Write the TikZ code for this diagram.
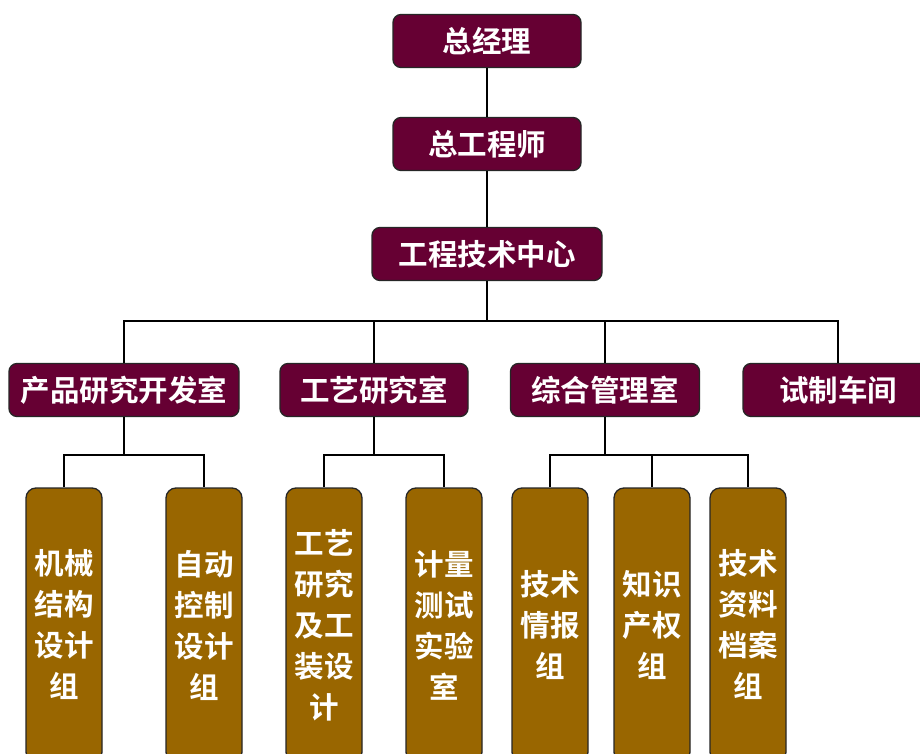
\documentclass[tikz,border=0pt]{standalone}
\usepackage{fontspec}
\newfontfamily\cjk{Noto Sans CJK SC Bold}
\definecolor{maroon}{HTML}{660033}
\definecolor{brownbox}{HTML}{996600}
\tikzset{
  topbox/.style={draw=black!85, line width=1.3pt, fill=maroon, rounded corners=8pt,
    text=white, font=\cjk\fontsize{29.5}{32}\selectfont, inner sep=0pt, minimum height=53pt},
  lowbox/.style={draw=black!85, line width=1.3pt, fill=brownbox, rounded corners=10pt,
    text=white, font=\cjk\fontsize{29.5}{41}\selectfont, inner sep=0pt,
    minimum width=76pt, minimum height=274pt, align=center},
  link/.style={draw=black, line width=1.2pt}
}
\begin{document}
\begin{tikzpicture}[x=1pt,y=-1pt]
\useasboundingbox (0,0) rectangle (920,754);
\clip (0,0) rectangle (920,754);
\fill[white] (0,0) rectangle (920,754);
% top chain
\node[topbox, minimum width=188pt] (gm) at (487,41) {总经理};
\node[topbox, minimum width=188pt] (ce) at (487,144) {总工程师};
\node[topbox, minimum width=230pt] (tc) at (487,254) {工程技术中心};
% level 2
\node[topbox, minimum width=230pt] (d1) at (124,390) {产品研究开发室};
\node[topbox, minimum width=188pt] (d2) at (374,390) {工艺研究室};
\node[topbox, minimum width=189pt] (d3) at (605,390) {综合管理室};
\node[topbox, minimum width=190pt] (d4) at (838,390) {试制车间};
% level 3
\node[lowbox] (g1) at (64,625) {机械\\结构\\设计\\组};
\node[lowbox] (g2) at (204,625) {自动\\控制\\设计\\组};
\node[lowbox] (g3) at (324,625) {工艺\\研究\\及工\\装设\\计};
\node[lowbox] (g4) at (444,625) {计量\\测试\\实验\\室};
\node[lowbox] (g5) at (550,625) {技术\\情报\\组};
\node[lowbox] (g6) at (652,625) {知识\\产权\\组};
\node[lowbox] (g7) at (748,625) {技术\\资料\\档案\\组};
% connectors
\coordinate (bus) at (487,321);
\draw[link] (gm.south) -- (ce.north);
\draw[link] (ce.south) -- (tc.north);
\draw[link] (tc.south) -- (bus);
\draw[link] (d1.north) |- (bus) -| (d4.north);
\draw[link] (d2.north) -- (d2.north |- bus);
\draw[link] (d3.north) -- (d3.north |- bus);
% groups
\coordinate (b1) at (124,455);
\coordinate (b2) at (374,455);
\coordinate (b3) at (605,455);
\draw[link] (d1.south) -- (b1);
\draw[link] (g1.north) |- (b1) -| (g2.north);
\draw[link] (d2.south) -- (b2);
\draw[link] (g3.north) |- (b2) -| (g4.north);
\draw[link] (d3.south) -- (b3);
\draw[link] (g5.north) |- (b3) -| (g7.north);
\draw[link] (g6.north) -- (g6.north |- b3);
\end{tikzpicture}
\end{document}
